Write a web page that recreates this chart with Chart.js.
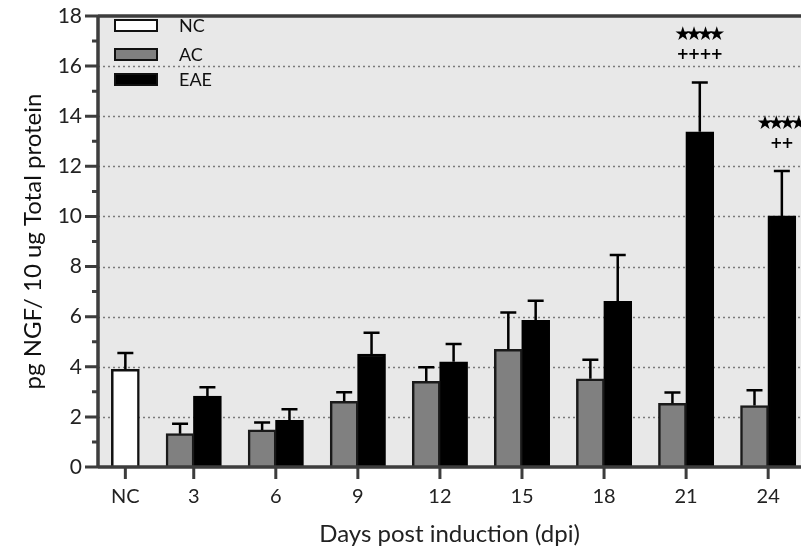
<!DOCTYPE html>
<html lang="en">
<head>
<meta charset="utf-8">
<title>NGF - days post induction</title>
<script src="https://cdn.jsdelivr.net/npm/chart.js@4.4.1/dist/chart.umd.min.js"></script>
<style>
	html, body { margin: 0; padding: 0; background: #fff; }
	#ngfChart { display: block; }
</style>
</head>
<body>
<canvas id="ngfChart" width="801" height="550"></canvas>
<script>
// pg NGF / 10 ug total protein, mean and SEM per group
const days = [3, 6, 9, 12, 15, 18, 21, 24];
const ncMean = [3.9];
const ncSem = [0.65];
const acMean = [1.33, 1.48, 2.62, 3.42, 4.70, 3.52, 2.54, 2.45];
const acSem = [0.40, 0.30, 0.36, 0.56, 1.47, 0.76, 0.43, 0.61];
const eaeMean = [2.83, 1.86, 4.51, 4.20, 5.85, 6.61, 13.38, 10.02];
const eaeSem = [0.35, 0.44, 0.85, 0.71, 0.79, 1.85, 1.97, 1.79];
// significance vs NC (stars) and vs AC (plus signs)
const starMarks = ['', '', '', '', '', '', '★★★★', '★★★★'];
const plusMarks = ['', '', '', '', '', '', '++++', '++'];
const xTickLabels = ['NC', '3', '6', '9', '12', '15', '18', '21', '24'];

(function () {
	const AXIS_COLOR = '#3d3d3d';
	const NC_POS = 0.5; // NC group sits before day 3 on the day axis

	// draws a string one glyph at a time on a fixed pitch, centred on cx
	function spacedText(ctx, str, cx, cy, pitch) {
		const chars = Array.from(str);
		const start = cx - (chars.length - 1) * pitch / 2;
		chars.forEach((ch, i) => ctx.fillText(ch, start + i * pitch, cy));
	}

	const app = {
		chart: null,

		datasets() {
			return [{
				label: 'NC',
				data: ncMean.map((v) => ({ x: NC_POS, y: v })),
				backgroundColor: '#ffffff',
				borderColor: '#111111',
				sem: ncSem
			}, {
				label: 'AC',
				data: acMean.map((v, i) => ({ x: days[i] - 0.5, y: v })),
				backgroundColor: '#808080',
				borderColor: '#1a1a1a',
				sem: acSem
			}, {
				label: 'EAE',
				data: eaeMean.map((v, i) => ({ x: days[i] + 0.5, y: v })),
				backgroundColor: '#000000',
				borderColor: '#000000',
				sem: eaeSem
			}].map((ds) => Object.assign(ds, {
				borderWidth: 2.5,
				borderSkipped: 'start',
				barThickness: 28,
				grouped: false
			}));
		},

		// plot background + dotted grid, under the bars
		backdrop: {
			id: 'backdrop',
			beforeDatasetsDraw(chart) {
				const { ctx, chartArea: a, scales: { y } } = chart;
				ctx.save();
				ctx.fillStyle = '#e8e8e8';
				ctx.fillRect(a.left, a.top, a.right - a.left, a.bottom - a.top);
				ctx.strokeStyle = '#7a7a7a';
				ctx.lineWidth = 1.5;
				ctx.setLineDash([2, 3]);
				for (let v = 2; v < 18; v += 2) {
					const py = Math.round(y.getPixelForValue(v)) + 0.5;
					ctx.beginPath();
					ctx.moveTo(a.left, py);
					ctx.lineTo(a.right, py);
					ctx.stroke();
				}
				ctx.restore();
			}
		},

		// error bars, axes, significance marks and the legend
		overlay: {
			id: 'overlay',
			afterDatasetsDraw(chart) {
				const { ctx, chartArea: a, scales: { x, y } } = chart;
				ctx.save();

				// upper SEM whiskers
				ctx.strokeStyle = '#000';
				ctx.lineWidth = 2.5;
				chart.data.datasets.forEach((ds, di) => {
					chart.getDatasetMeta(di).data.forEach((bar, i) => {
						const top = y.getPixelForValue(ds.data[i].y + ds.sem[i]);
						ctx.beginPath();
						ctx.moveTo(bar.x, bar.y);
						ctx.lineTo(bar.x, top);
						ctx.moveTo(bar.x - 8, top);
						ctx.lineTo(bar.x + 8, top);
						ctx.stroke();
					});
				});

				// axes frame
				ctx.strokeStyle = AXIS_COLOR;
				ctx.lineWidth = 3.5;
				ctx.beginPath();
				ctx.moveTo(a.left, a.bottom);
				ctx.lineTo(a.left, a.top);
				ctx.moveTo(a.left, a.top);
				ctx.lineTo(a.right, a.top);
				ctx.moveTo(a.left, a.bottom);
				ctx.lineTo(a.right, a.bottom);
				ctx.stroke();

				ctx.lineWidth = 3;
				ctx.beginPath();
				for (let v = 0; v <= 18; v++) {
					const py = y.getPixelForValue(v);
					ctx.moveTo(a.left - (v % 2 === 0 ? 13 : 6), py);
					ctx.lineTo(a.left, py);
				}
				x.ticks.forEach((t) => {
					const px = x.getPixelForValue(t.value);
					ctx.moveTo(px, a.bottom);
					ctx.lineTo(px, a.bottom + 12);
				});
				ctx.stroke();

				// significance marks above the EAE whiskers
				const eaeMeta = chart.getDatasetMeta(2);
				ctx.fillStyle = '#000';
				ctx.textAlign = 'center';
				ctx.textBaseline = 'middle';
				eaeMeta.data.forEach((bar, i) => {
					const top = y.getPixelForValue(eaeMean[i] + eaeSem[i]);
					ctx.font = '19px "DejaVu Sans"';
					spacedText(ctx, starMarks[i], bar.x, top - 47, 11.3);
					ctx.font = 'bold 15px "DejaVu Sans"';
					spacedText(ctx, plusMarks[i], bar.x, top - 27, 11.3);
				});

				// legend inside the plot, top left
				const rows = [4, 33, 58];
				ctx.font = '18px Lato';
				ctx.textAlign = 'left';
				chart.data.datasets.forEach((ds, di) => {
					const bx = a.left + 17;
					const by = a.top + rows[di];
					ctx.fillStyle = ds.backgroundColor;
					ctx.fillRect(bx, by, 42, 11);
					ctx.strokeStyle = '#111';
					ctx.lineWidth = 2;
					ctx.strokeRect(bx, by, 42, 11);
					ctx.fillStyle = '#111';
					ctx.fillText(ds.label, a.left + 81, by + 6);
				});

				ctx.restore();
			}
		},

		build() {
			const canvas = document.getElementById('ngfChart');
			if (!canvas) return;

			app.chart = new Chart(canvas.getContext('2d'), {
				type: 'bar',
				data: { datasets: app.datasets() },
				options: {
					responsive: false,
					animation: false,
					devicePixelRatio: 1,
					layout: { padding: { top: 16, right: 0, left: 0, bottom: 0 } },
					plugins: {
						legend: { display: false },
						tooltip: { enabled: false }
					},
					scales: {
						x: {
							type: 'linear',
							min: -0.5,
							max: 25.2,
							offset: false,
							grid: { display: false, drawTicks: false },
							border: { display: false },
							afterBuildTicks(scale) {
								scale.ticks = [NC_POS].concat(days).map((v) => ({ value: v }));
							},
							afterFit(scale) {
								scale.height = 83;
								scale.paddingLeft = 0;
								scale.paddingRight = 0;
							},
							ticks: {
								autoSkip: false,
								maxRotation: 0,
								padding: 18,
								color: '#222',
								font: { family: 'Lato', size: 20 },
								callback: (value, index) => xTickLabels[index]
							},
							title: {
								display: true,
								text: 'Days post induction (dpi)',
								color: '#222',
								font: { family: 'Lato', size: 24 },
								padding: { top: 0, bottom: 1 }
							}
						},
						y: {
							min: 0,
							max: 18,
							grid: { display: false, drawTicks: false },
							border: { display: false },
							afterFit(scale) {
								scale.width = 98;
								scale.paddingTop = 0;
								scale.paddingBottom = 0;
							},
							ticks: {
								stepSize: 2,
								padding: 16,
								color: '#222',
								font: { family: 'Lato', size: 21 }
							},
							title: {
								display: true,
								text: 'pg NGF/ 10 ug Total protein',
								color: '#111',
								font: { family: 'Lato', size: 24 },
								padding: { top: 19, bottom: 0 }
							}
						}
					}
				},
				plugins: [app.backdrop, app.overlay]
			});
		},

		init() {
			app.build();
		}
	};

	window.app = app;
})();

document.addEventListener('DOMContentLoaded', () => {
	window.app?.init?.();
});
</script>
</body>
</html>
